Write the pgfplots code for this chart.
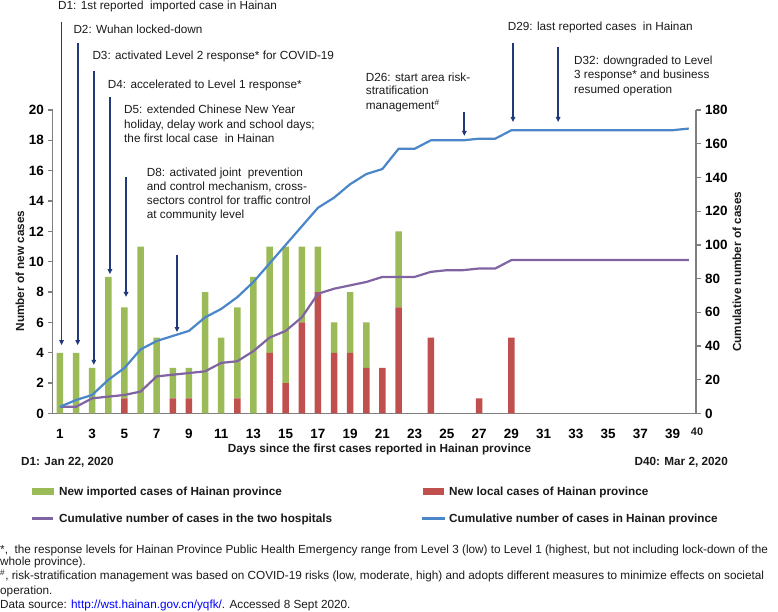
\documentclass[border=0pt]{standalone}
\usepackage{fontspec}
\setmainfont{Liberation Sans}
\usepackage{pgfplots}
\pgfplotsset{compat=1.18}
\usetikzlibrary{arrows.meta}
\definecolor{cgreen}{HTML}{9BBB59}
\definecolor{cred}{HTML}{C0504D}
\definecolor{cpurple}{HTML}{8064A2}
\definecolor{cblue}{HTML}{4A86C8}
\definecolor{carrow}{HTML}{1F3A78}
\definecolor{caxis}{HTML}{7F7F7F}
\definecolor{ctext}{HTML}{1A1A1A}
\newcommand{\fs}{\fontsize{11.8}{14}\selectfont}
\newcommand{\fb}{\fontsize{11.8}{14}\selectfont\bfseries}
\newcommand{\ftick}{\fontsize{13.5}{16}\selectfont\bfseries}
\tikzset{evarrow/.style={draw=carrow, line width=1.8bp, -{Triangle[length=5bp,width=4.5bp]}}}
\pgfplotsset{
  mycommon/.style={
    at={(52.7bp,198.5bp)}, anchor=south west, scale only axis,
    width=643.3bp, height=303.5bp,
    xmin=0.55, xmax=40.45, clip=false,
    axis line style={draw=caxis, line width=1.3bp},
    tick align=outside, major tick length=4.5bp,
    tick label style={font=\ftick},
    /pgf/number format/assume math mode=true,
  }
}
\begin{document}
\begin{tikzpicture}
\path[use as bounding box] (0,0) rectangle (778bp,612bp);
% ---------- bars (left axis) ----------
\begin{axis}[mycommon,
  ymin=0, ymax=20,
  axis y line*=left, axis x line*=bottom,
  ytick={0,2,...,20}, xtick={1,3,...,39},
  y tick style={draw=caxis, line width=1.3bp},
  x tick style={draw=none},
  xticklabel style={anchor=base, inner sep=0pt, yshift=-20.8bp},
  yticklabel style={anchor=east, inner sep=0pt, xshift=-4.2bp},
  ybar stacked, bar width=6.5bp,
]
\addplot[fill=cred, draw=none] coordinates {
(1,0)(2,0)(3,0)(4,0)(5,1)(6,0)(7,0)(8,1)(9,1)(10,0)(11,0)(12,1)(13,0)(14,4)(15,2)
(16,6)(17,8)(18,4)(19,4)(20,3)(21,3)(22,7)(23,0)(24,5)(25,0)(26,0)(27,1)(28,0)(29,5)};
\addplot[fill=cgreen, draw=none] coordinates {
(1,4)(2,4)(3,3)(4,9)(5,6)(6,11)(7,5)(8,2)(9,2)(10,8)(11,5)(12,6)(13,9)(14,7)(15,9)
(16,5)(17,3)(18,2)(19,4)(20,3)(21,0)(22,5)(23,0)(24,0)(25,0)(26,0)(27,0)(28,0)(29,0)};
\end{axis}
% ---------- cumulative lines (right axis) ----------
\begin{axis}[mycommon,
  ymin=0, ymax=180,
  axis y line*=right, axis x line=none,
  ytick={0,20,...,180},
  y tick style={draw=caxis, line width=1.3bp},
  yticklabel style={anchor=west, inner sep=0pt, xshift=4.5bp},
]
\addplot[cpurple, line width=2.2bp, line join=round] coordinates {
(1,4)(2,4)(3,9)(4,10)(5,11)(6,13)(7,22)(8,23)(9,24)(10,25)(11,30)(12,31)(13,37)(14,45)
(15,49)(16,57)(17,71)(18,74)(19,76)(20,78)(21,81)(22,81)(23,81)(24,84)(25,85)(26,85)
(27,86)(28,86)(29,91)(30,91)(31,91)(32,91)(33,91)(34,91)(35,91)(36,91)(37,91)(38,91)(39,91)(40,91)};
\addplot[cblue, line width=2.2bp, line join=round] coordinates {
(1,4)(2,8)(3,11)(4,20)(5,27)(6,38)(7,43)(8,46)(9,49)(10,57)(11,62)(12,69)(13,78)(14,89)
(15,100)(16,111)(17,122)(18,128)(19,136)(20,142)(21,145)(22,157)(23,157)(24,162)(25,162)
(26,162)(27,163)(28,163)(29,168)(30,168)(31,168)(32,168)(33,168)(34,168)(35,168)(36,168)
(37,168)(38,168)(39,168)(40,169)};
% event arrows (right-axis units = 9 x left-axis units)
\draw[evarrow] (axis cs:1.1,232.2) -- (axis cs:1.1,40.6);
\draw[evarrow] (axis cs:2.1,219.6) -- (axis cs:2.1,40.6);
\draw[evarrow] (axis cs:3.1,203.4) -- (axis cs:3.1,28.8);
\draw[evarrow] (axis cs:4.1,187.7) -- (axis cs:4.1,82.7);
\draw[evarrow] (axis cs:5.1,140.2) -- (axis cs:5.1,69.1);
\draw[evarrow] (axis cs:8.26,94.1) -- (axis cs:8.26,48.3);
\draw[evarrow] (axis cs:26.08,178.8) -- (axis cs:26.08,164.6);
\draw[evarrow] (axis cs:29.1,219.8) -- (axis cs:29.1,172.9);
\draw[evarrow] (axis cs:31.9,217.4) -- (axis cs:31.9,172.9);
\end{axis}
% ---------- texts ----------
\begin{scope}[every node/.style={inner sep=0pt, text=ctext}]
\node[rotate=90, font=\fb] at (20bp,341bp) {Number of new cases};
\node[rotate=90, font=\fb] at (737bp,340.3bp) {Cumulative number of cases};
\node[font=\fb, anchor=base] at (379.5bp,159bp) {Days since the first cases reported in Hainan province};
\node[font=\fb, anchor=base west] at (21bp,146.3bp) {D1: Jan 22, 2020};
\node[font=\fb, anchor=base east] at (728bp,146.3bp) {D40: Mar 2, 2020};
\node[font=\fontsize{11}{13}\selectfont\bfseries] at (697bp,180.3bp) {40};
\node[font=\fs, anchor=base west] at (58bp,602.7bp) {D1: 1st reported~ imported case in Hainan};
\node[font=\fs, anchor=base west] at (73.3bp,578bp) {D2: Wuhan locked-down};
\node[font=\fs, anchor=base west] at (92.3bp,552bp) {D3: activated Level 2 response* for COVID-19};
\node[font=\fs, anchor=base west] at (107.7bp,523bp) {D4: accelerated to Level 1 response*};
\node[font=\fs, anchor=base west] at (124bp,498bp) {D5: extended Chinese New Year};
\node[font=\fs, anchor=base west] at (124bp,483.3bp) {holiday, delay work and school days;};
\node[font=\fs, anchor=base west] at (124bp,469.7bp) {the first local case~ in Hainan};
\node[font=\fs, anchor=base west] at (146.7bp,435.3bp) {D8: activated joint~ prevention};
\node[font=\fs, anchor=base west] at (146.7bp,421.3bp) {and control mechanism, cross-};
\node[font=\fs, anchor=base west] at (146.7bp,407.3bp) {sectors control for traffic control};
\node[font=\fs, anchor=base west] at (146.7bp,393bp) {at community level};
\node[font=\fs, anchor=base west] at (365.7bp,530.3bp) {D26: start area risk-};
\node[font=\fs, anchor=base west] at (365.7bp,517bp) {stratification};
\node[font=\fs, anchor=base west] at (365.7bp,502bp) {management\textsuperscript{\#}};
\node[font=\fs, anchor=base west] at (507.7bp,581.3bp) {D29: last reported cases~ in Hainan};
\node[font=\fs, anchor=base west] at (574bp,547bp) {D32: downgraded to Level};
\node[font=\fs, anchor=base west] at (574bp,533bp) {3 response* and business};
\node[font=\fs, anchor=base west] at (574bp,518.7bp) {resumed operation};
\fill[cgreen] (32bp,116.5bp) rectangle (54bp,123.5bp);
\node[font=\fb, anchor=base west] at (59bp,116bp) {New imported cases of Hainan province};
\fill[cred] (423bp,116.5bp) rectangle (444bp,123.5bp);
\node[font=\fb, anchor=base west] at (449bp,116bp) {New local cases of Hainan province};
\draw[cpurple, line width=2.2bp] (32bp,93.5bp) -- (53bp,93.5bp);
\node[font=\fb, anchor=base west] at (59bp,89.5bp) {Cumulative number of cases in the two hospitals};
\draw[cblue, line width=2.2bp] (422bp,93.5bp) -- (445bp,93.5bp);
\node[font=\fb, anchor=base west] at (449bp,89.5bp) {Cumulative number of cases in Hainan province};
\node[font=\fs, anchor=base west] at (0bp,58.7bp) {*,~ the response levels for Hainan Province Public Health Emergency range from Level 3 (low) to Level 1 (highest, but not including lock-down of the};
\node[font=\fs, anchor=base west] at (0bp,46bp) {whole province).};
\node[font=\fs, anchor=base west] at (0bp,32bp) {\textsuperscript{\#}, risk-stratification management was based on COVID-19 risks (low, moderate, high) and adopts different measures to minimize effects on societal};
\node[font=\fs, anchor=base west] at (0bp,18bp) {operation.};
\node[font=\fs, anchor=base west] at (0bp,4bp) {Data source: \textcolor{blue}{\underline{http://wst.hainan.gov.cn/yqfk/}}. Accessed 8 Sept 2020.};
\end{scope}
\end{tikzpicture}
\end{document}
